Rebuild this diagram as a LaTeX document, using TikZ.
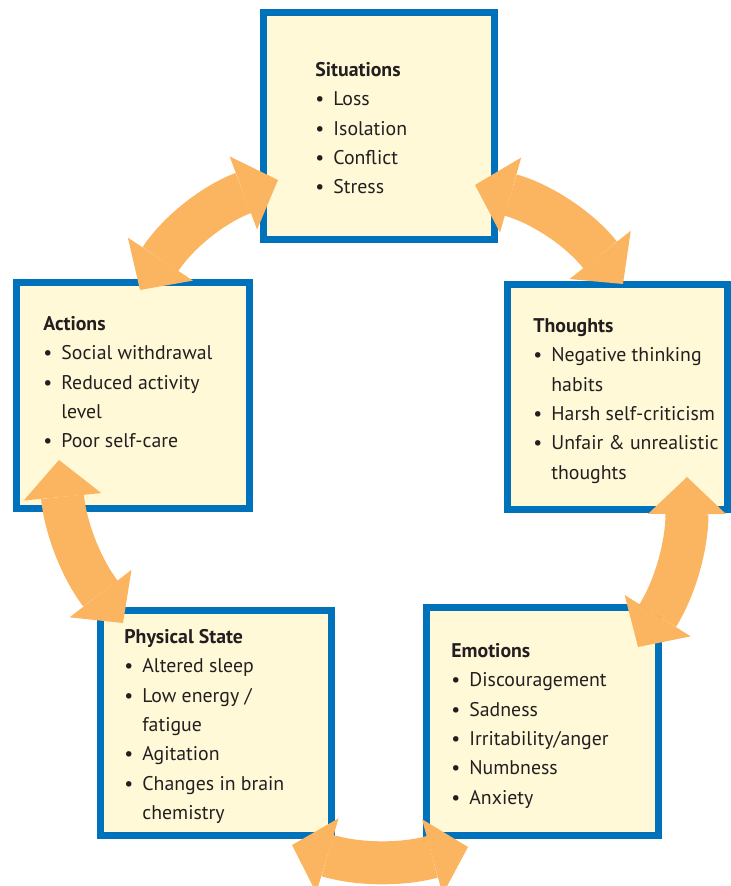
\documentclass[tikz,border=0pt]{standalone}
\usepackage{fontspec}
\setmainfont{PT Sans}
\usetikzlibrary{arrows.meta}
\definecolor{boxblue}{RGB}{0,114,188}
\definecolor{boxfill}{RGB}{255,249,216}
\definecolor{arroworange}{RGB}{251,181,96}
\definecolor{textgray}{RGB}{35,31,32}
\newcommand{\itm}{\makebox[9pt][l]{\textbullet}}
\newcommand{\cnt}{\hspace*{9pt}}
\begin{document}
\begin{tikzpicture}[x=0.5pt,y=-0.5pt,
        box/.style={draw=boxblue, fill=boxfill, line width=3.5pt, inner sep=0pt},
        txt/.style={anchor=north west, align=left, inner sep=0pt, text=textgray,
            font=\fontsize{9.9}{14.7}\selectfont},
        link/.style={arroworange, line width=21.5pt,
            {Triangle[length=18.5pt,width=39pt,line width=0pt]}-{Triangle[length=18.5pt,width=39pt,line width=0pt]}}]
        \useasboundingbox (0,0) rectangle (731,886);

        % Define the five boxes
        \node[box, minimum width=115.5pt, minimum height=113.5pt] (sit) at (379,126) {};
        \node[box, minimum width=116.5pt, minimum height=113pt] (act) at (133,395.5) {};
        \node[box, minimum width=110pt, minimum height=112.5pt] (tho) at (617.5,397) {};
        \node[box, minimum width=115.5pt, minimum height=112.5pt] (phy) at (216,723) {};
        \node[box, minimum width=116pt, minimum height=114pt] (emo) at (542.5,721.5) {};

        % Add the texts
        \node[txt] (sittext) at (315,55.4) {\strut\textbf{Situations}\\ \itm Loss\\ \itm Isolation\\ \itm Conflict\\ \itm Stress};
        \node[txt] (acttext) at (43,309.4) {\strut\textbf{Actions}\\ \itm Social withdrawal\\ \itm Reduced activity\\ \cnt level\\ \itm Poor self-care};
        \node[txt] (thotext) at (533,311.4) {\strut\textbf{Thoughts}\\ \itm Negative thinking\\ \cnt habits\\ \itm Harsh self-criticism\\ \itm Unfair \& unrealistic\\ \cnt thoughts};
        \node[txt] (phytext) at (124,622.4) {\strut\textbf{Physical State}\\ \itm Altered sleep\\ \itm Low energy /\\ \cnt fatigue\\ \itm Agitation\\ \itm Changes in brain\\ \cnt chemistry};
        \node[txt] (emotext) at (451,636.4) {\strut\textbf{Emotions}\\ \itm Discouragement\\ \itm Sadness\\ \itm Irritability/anger\\ \itm Numbness\\ \itm Anxiety};

        % Define the curved arrows
        \draw[link] ([shift={(7,11)}]act.north) to[bend left=18] ([shift={(18,-63)}]sit.south west);
        \draw[link] ([shift={(-23,-58)}]sit.south east) to[bend left=18] ([shift={(5.5,3)}]tho.north);
        \draw[link] ([shift={(-44,-36)}]tho.south east) to[bend left=16] ([shift={(-24,43)}]emo.north east);
        \draw[link] ([shift={(-43,6)}]phy.south east) to[bend right=16] ([shift={(45,8)}]emo.south west);
        \draw[link] ([shift={(46,-52)}]act.south west) to[bend right=16] ([shift={(26,16)}]phy.north west);
    \end{tikzpicture}
\end{document}
